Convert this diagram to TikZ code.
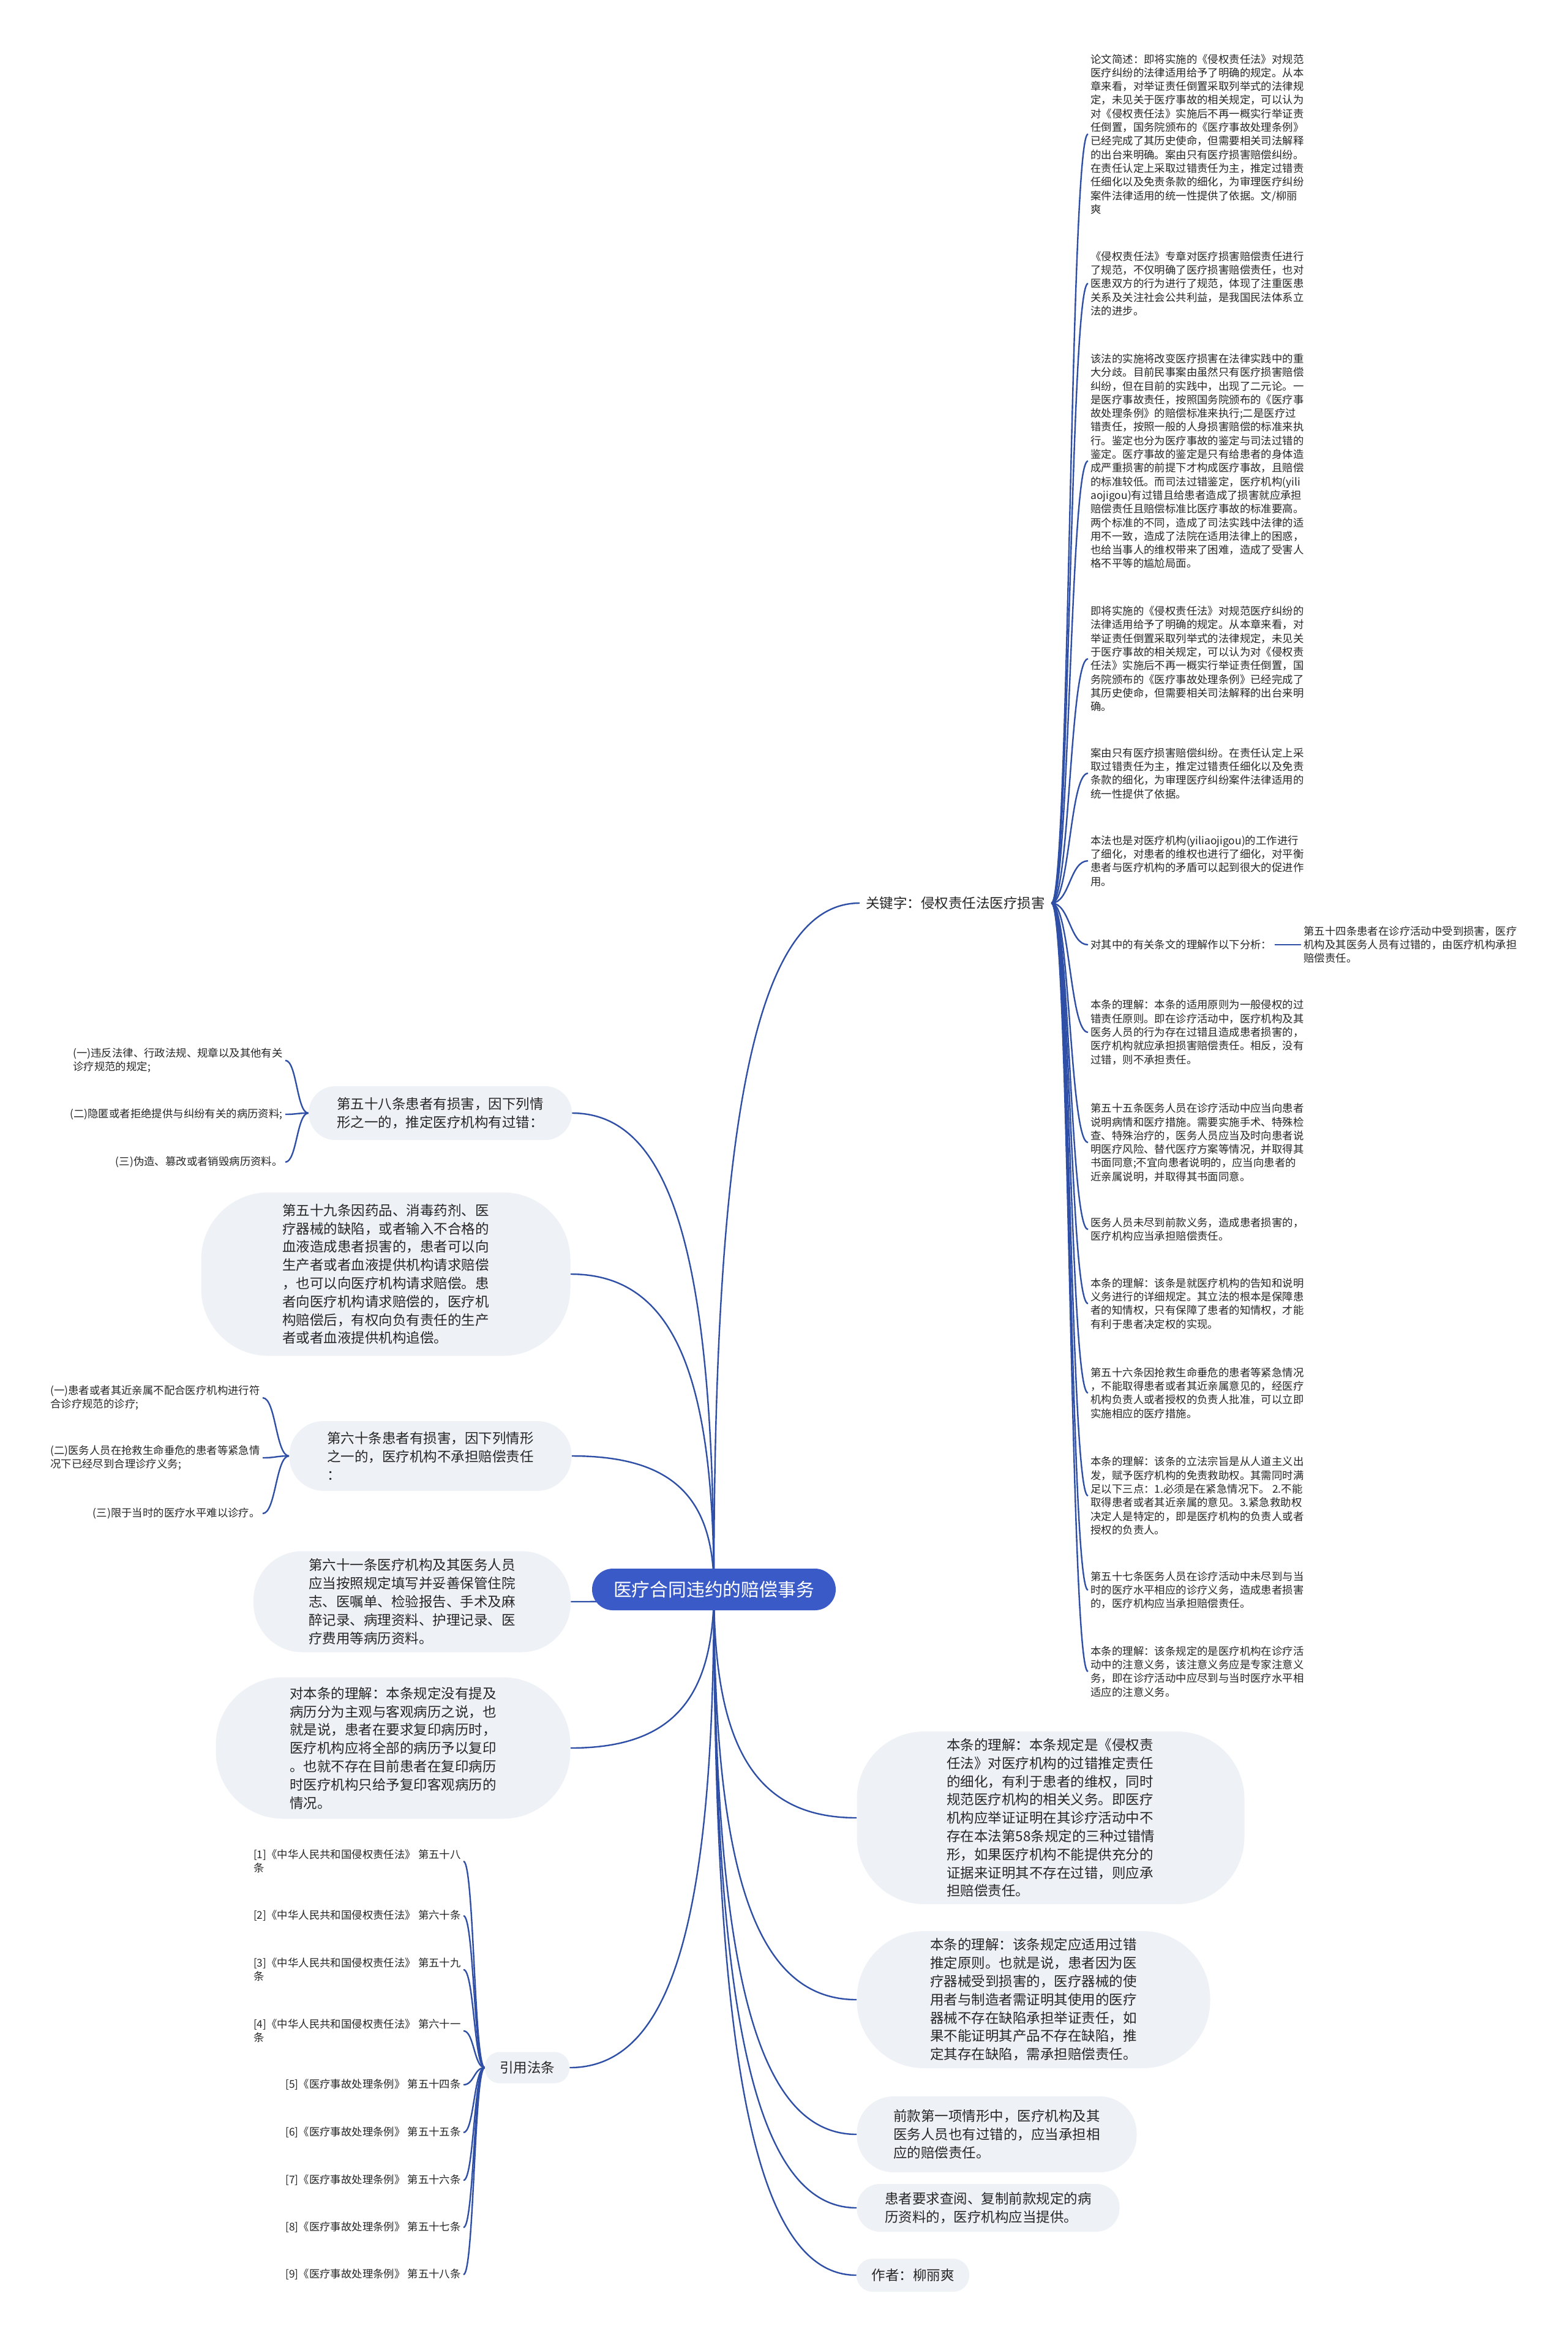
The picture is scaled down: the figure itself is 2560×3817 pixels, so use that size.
\documentclass[tikz,border=0pt]{standalone}
\usepackage{fontspec}
\setmainfont{Noto Sans CJK SC}
\usetikzlibrary{calc,positioning,backgrounds}

\definecolor{rootblue}{HTML}{3A5BC7}
\definecolor{linkblue}{HTML}{2E4FA5}
\definecolor{boxgray}{HTML}{EEF1F6}
\definecolor{ink}{HTML}{262626}

\tikzset{
  rootbox/.style={fill=rootblue, text=white, rounded corners=17pt, minimum width=199pt, minimum height=34pt, font=\fontsize{14.9}{18}\selectfont},
  topic/.style={fill=boxgray, text=ink, align=left, inner sep=2pt, font=\fontsize{11.25}{14.9}\selectfont},
  plaintopic/.style={text=ink, inner xsep=5pt, font=\fontsize{11.25}{14.9}\selectfont},
  leaf/.style={text=ink, align=left, inner sep=2pt, font=\fontsize{8.7}{11.15}\selectfont},
  link/.style={draw=linkblue, line width=1.2pt},
}
% bezier link, controls at the horizontal middle
\newcommand{\branch}[2]{\draw[link] let \p1=(#1), \p2=(#2) in (\p1) .. controls ({(\x1+\x2)/2},\y1) and ({(\x1+\x2)/2},\y2) .. (\p2);}
% link out of the root: leaves it vertically, enters the topic level
\newcommand{\stem}[2]{\draw[link] let \p1=(#1), \p2=(#2) in (\p1) .. controls (\x1,{\y1+0.7*(\y2-\y1)}) and ({\x2+0.7*(\x1-\x2)},\y2) .. (\p2);}

\begin{document}
\begin{tikzpicture}[x=0.5pt,y=-0.5pt]
  \useasboundingbox (0,0) rectangle (2560,3817);

  \node[rootbox] (root) at (1166,2596) {医疗合同违约的赔偿事务};

  %% right side
  \node[plaintopic, anchor=west] (kw) at (1404,1475) {关键字：侵权责任法医疗损害};
  \node[leaf, anchor=west] (abstr) at (1777,219) {论文简述：即将实施的《侵权责任法》对规范\\医疗纠纷的法律适用给予了明确的规定。从本\\章来看，对举证责任倒置采取列举式的法律规\\定，未见关于医疗事故的相关规定，可以认为\\对《侵权责任法》实施后不再一概实行举证责\\任倒置，国务院颁布的《医疗事故处理条例》\\已经完成了其历史使命，但需要相关司法解释\\的出台来明确。案由只有医疗损害赔偿纠纷。\\在责任认定上采取过错责任为主，推定过错责\\任细化以及免责条款的细化，为审理医疗纠纷\\案件法律适用的统一性提供了依据。文/柳丽\\爽};
  \node[leaf, anchor=west] (progress) at (1777,463) {《侵权责任法》专章对医疗损害赔偿责任进行\\了规范，不仅明确了医疗损害赔偿责任，也对\\医患双方的行为进行了规范，体现了注重医患\\关系及关注社会公共利益，是我国民法体系立\\法的进步。};
  \node[leaf, anchor=west] (split) at (1777,753) {该法的实施将改变医疗损害在法律实践中的重\\大分歧。目前民事案由虽然只有医疗损害赔偿\\纠纷，但在目前的实践中，出现了二元论。一\\是医疗事故责任，按照国务院颁布的《医疗事\\故处理条例》的赔偿标准来执行;二是医疗过\\错责任，按照一般的人身损害赔偿的标准来执\\行。鉴定也分为医疗事故的鉴定与司法过错的\\鉴定。医疗事故的鉴定是只有给患者的身体造\\成严重损害的前提下才构成医疗事故，且赔偿\\的标准较低。而司法过错鉴定，医疗机构(yili\\aojigou)有过错且给患者造成了损害就应承担\\赔偿责任且赔偿标准比医疗事故的标准要高。\\两个标准的不同，造成了司法实践中法律的适\\用不一致，造成了法院在适用法律上的困惑，\\也给当事人的维权带来了困难，造成了受害人\\格不平等的尴尬局面。};
  \node[leaf, anchor=west] (apply) at (1777,1076) {即将实施的《侵权责任法》对规范医疗纠纷的\\法律适用给予了明确的规定。从本章来看，对\\举证责任倒置采取列举式的法律规定，未见关\\于医疗事故的相关规定，可以认为对《侵权责\\任法》实施后不再一概实行举证责任倒置，国\\务院颁布的《医疗事故处理条例》已经完成了\\其历史使命，但需要相关司法解释的出台来明\\确。};
  \node[leaf, anchor=west] (cause) at (1777,1263) {案由只有医疗损害赔偿纠纷。在责任认定上采\\取过错责任为主，推定过错责任细化以及免责\\条款的细化，为审理医疗纠纷案件法律适用的\\统一性提供了依据。};
  \node[leaf, anchor=west] (refine) at (1777,1406) {本法也是对医疗机构(yiliaojigou)的工作进行\\了细化，对患者的维权也进行了细化，对平衡\\患者与医疗机构的矛盾可以起到很大的促进作\\用。};
  \node[leaf, anchor=west] (analyse) at (1777,1543) {对其中的有关条文的理解作以下分析：};
  \node[leaf, anchor=west] (art54) at (2125,1543) {第五十四条患者在诊疗活动中受到损害，医疗\\机构及其医务人员有过错的，由医疗机构承担\\赔偿责任。};
  \node[leaf, anchor=west] (note54) at (1777,1686) {本条的理解：本条的适用原则为一般侵权的过\\错责任原则。即在诊疗活动中，医疗机构及其\\医务人员的行为存在过错且造成患者损害的，\\医疗机构就应承担损害赔偿责任。相反，没有\\过错，则不承担责任。};
  \node[leaf, anchor=west] (art55) at (1777,1866) {第五十五条医务人员在诊疗活动中应当向患者\\说明病情和医疗措施。需要实施手术、特殊检\\查、特殊治疗的，医务人员应当及时向患者说\\明医疗风险、替代医疗方案等情况，并取得其\\书面同意;不宜向患者说明的，应当向患者的\\近亲属说明，并取得其书面同意。};
  \node[leaf, anchor=west] (duty55) at (1777,2008) {医务人员未尽到前款义务，造成患者损害的，\\医疗机构应当承担赔偿责任。};
  \node[leaf, anchor=west] (note55) at (1777,2129) {本条的理解：该条是就医疗机构的告知和说明\\义务进行的详细规定。其立法的根本是保障患\\者的知情权，只有保障了患者的知情权，才能\\有利于患者决定权的实现。};
  \node[leaf, anchor=west] (art56) at (1777,2275) {第五十六条因抢救生命垂危的患者等紧急情况\\，不能取得患者或者其近亲属意见的，经医疗\\机构负责人或者授权的负责人批准，可以立即\\实施相应的医疗措施。};
  \node[leaf, anchor=west] (note56) at (1777,2443) {本条的理解：该条的立法宗旨是从人道主义出\\发，赋予医疗机构的免责救助权。其需同时满\\足以下三点：1.必须是在紧急情况下。 2.不能\\取得患者或者其近亲属的意见。3.紧急救助权\\决定人是特定的，即是医疗机构的负责人或者\\授权的负责人。};
  \node[leaf, anchor=west] (art57) at (1777,2597) {第五十七条医务人员在诊疗活动中未尽到与当\\时的医疗水平相应的诊疗义务，造成患者损害\\的，医疗机构应当承担赔偿责任。};
  \node[leaf, anchor=west] (note57) at (1777,2730) {本条的理解：该条规定的是医疗机构在诊疗活\\动中的注意义务，该注意义务应是专家注意义\\务，即在诊疗活动中应尽到与当时医疗水平相\\适应的注意义务。};

  \node[topic, minimum width=316.5pt, minimum height=141pt, rounded corners=55pt] (note58r) at (1716,2969) {本条的理解：本条规定是《侵权责\\任法》对医疗机构的过错推定责任\\的细化，有利于患者的维权，同时\\规范医疗机构的相关义务。即医疗\\机构应举证证明在其诊疗活动中不\\存在本法第58条规定的三种过错情\\形，如果医疗机构不能提供充分的\\证据来证明其不存在过错，则应承\\担赔偿责任。};
  \node[topic, minimum width=288.5pt, minimum height=112pt, rounded corners=55pt] (note59r) at (1688,3266) {本条的理解：该条规定应适用过错\\推定原则。也就是说，患者因为医\\疗器械受到损害的，医疗器械的使\\用者与制造者需证明其使用的医疗\\器械不存在缺陷承担举证责任，如\\果不能证明其产品不存在缺陷，推\\定其存在缺陷，需承担赔偿责任。};
  \node[topic, minimum width=228.5pt, minimum height=62pt, rounded corners=30pt] (clause1) at (1628,3486) {前款第一项情形中，医疗机构及其\\医务人员也有过错的，应当承担相\\应的赔偿责任。};
  \node[topic, minimum width=214.5pt, minimum height=39pt, rounded corners=19pt] (copyreq) at (1614,3606) {患者要求查阅、复制前款规定的病\\历资料的，医疗机构应当提供。};
  \node[topic, minimum width=92pt, minimum height=27pt, rounded corners=13pt] (author) at (1491,3716) {作者：柳丽爽};

  %% left side
  \node[topic, minimum width=215pt, minimum height=44pt, rounded corners=22pt] (art58) at (719,1818) {第五十八条患者有损害，因下列情\\形之一的，推定医疗机构有过错：};
  \node[leaf, anchor=east] (art58a) at (466,1732) {(一)违反法律、行政法规、规章以及其他有关\\诊疗规范的规定;};
  \node[leaf, anchor=east] (art58b) at (466,1820) {(二)隐匿或者拒绝提供与纠纷有关的病历资料;};
  \node[leaf, anchor=east] (art58c) at (466,1898) {(三)伪造、篡改或者销毁病历资料。};
  \node[topic, minimum width=301.5pt, minimum height=133.5pt, rounded corners=55pt] (art59) at (630,2081) {第五十九条因药品、消毒药剂、医\\疗器械的缺陷，或者输入不合格的\\血液造成患者损害的，患者可以向\\生产者或者血液提供机构请求赔偿\\，也可以向医疗机构请求赔偿。患\\者向医疗机构请求赔偿的，医疗机\\构赔偿后，有权向负有责任的生产\\者或者血液提供机构追偿。};
  \node[topic, minimum width=230.5pt, minimum height=57pt, rounded corners=28pt] (art60) at (703,2378) {第六十条患者有损害，因下列情形\\之一的，医疗机构不承担赔偿责任\\：};
  \node[leaf, anchor=east] (art60a) at (429,2283) {(一)患者或者其近亲属不配合医疗机构进行符\\合诊疗规范的诊疗;};
  \node[leaf, anchor=east] (art60b) at (429,2381) {(二)医务人员在抢救生命垂危的患者等紧急情\\况下已经尽到合理诊疗义务;};
  \node[leaf, anchor=east] (art60c) at (429,2472) {(三)限于当时的医疗水平难以诊疗。};
  \node[topic, minimum width=259pt, minimum height=82.5pt, rounded corners=40pt] (art61) at (673,2616) {第六十一条医疗机构及其医务人员\\应当按照规定填写并妥善保管住院\\志、医嘱单、检验报告、手术及麻\\醉记录、病理资料、护理记录、医\\疗费用等病历资料。};
  \node[topic, minimum width=289.5pt, minimum height=115.5pt, rounded corners=55pt] (note61) at (642,2855) {对本条的理解：本条规定没有提及\\病历分为主观与客观病历之说，也\\就是说，患者在要求复印病历时，\\医疗机构应将全部的病历予以复印\\。也就不存在目前患者在复印病历\\时医疗机构只给予复印客观病历的\\情况。};
  \node[topic, minimum width=69pt, minimum height=25.5pt, rounded corners=12pt] (cite) at (861,3377) {引用法条};
  \foreach \r/\y/\t in {1/3040/{[1]《中华人民共和国侵权责任法》 第五十八\\条},
                       2/3129/{[2]《中华人民共和国侵权责任法》 第六十条},
                       3/3217/{[3]《中华人民共和国侵权责任法》 第五十九\\条},
                       4/3317/{[4]《中华人民共和国侵权责任法》 第六十一\\条},
                       5/3405/{[5]《医疗事故处理条例》 第五十四条},
                       6/3483/{[6]《医疗事故处理条例》 第五十五条},
                       7/3561/{[7]《医疗事故处理条例》 第五十六条},
                       8/3638/{[8]《医疗事故处理条例》 第五十七条},
                       9/3715/{[9]《医疗事故处理条例》 第五十八条}}{
    \node[leaf, anchor=east, font=\fontsize{8.7}{11}\selectfont] (ref\r) at (757,\y) {\t};
  }

  %% links
  \begin{scope}[on background layer]
    \fill[white] (0,0) rectangle (2560,3817);
    \foreach \k in {kw,note58r,note59r,clause1,copyreq,author}
      \stem{root.center}{\k.west};
    \foreach \k in {art58,art59,art60,art61,note61,cite}
      \stem{root.center}{\k.east};
    \foreach \k in {abstr,progress,split,apply,cause,refine,analyse,note54,art55,duty55,note55,art56,note56,art57,note57}
      \branch{kw.east}{\k.west};
    \draw[link] (analyse.east) -- (art54.west);
    \foreach \k in {art58a,art58b,art58c}
      \branch{art58.west}{\k.east};
    \foreach \k in {art60a,art60b,art60c}
      \branch{art60.west}{\k.east};
    \foreach \r in {1,...,9}
      \branch{cite.west}{ref\r.east};
  \end{scope}
\end{tikzpicture}
\end{document}
